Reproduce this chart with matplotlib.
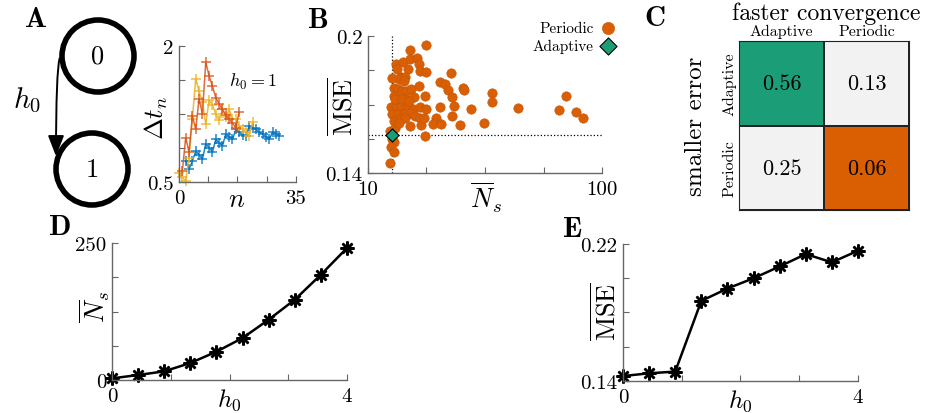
import matplotlib
matplotlib.use("Agg")
import matplotlib.pyplot as plt
import numpy as np
from matplotlib.patches import Circle, FancyArrowPatch
from matplotlib.colors import ListedColormap

plt.rcParams["font.family"] = ["cmr10", "DejaVu Serif"]
plt.rcParams["mathtext.fontset"] = "cm"
plt.rcParams["axes.unicode_minus"] = False
plt.rcParams["axes.formatter.use_mathtext"] = True

W, H = 928, 414

# --- panel A inset: inter-sample intervals for h0 = 1
n_red = np.arange(1, 19)
dt_red = [0.62, 0.99, 0.83, 1.23, 1.08, 1.42, 1.25, 1.82, 1.67, 1.56, 1.43, 1.36,
          1.30, 1.24, 1.19, 1.15, 1.10, 1.27]
n_yel = np.arange(0, 23)
dt_yel = [0.60, 0.55, 0.51, 0.77, 1.20, 1.64, 1.50, 1.38, 1.14, 1.40, 1.35, 1.25,
          1.18, 1.30, 1.22, 1.30, 1.20, 1.19, 1.12, 1.08, 1.05, 1.01, 1.16]
n_blu = np.arange(2, 31)
dt_blu = [0.73, 0.64, 0.73, 0.84, 0.80, 0.75, 0.92, 0.88, 0.83, 0.97, 0.93, 0.90,
          1.03, 1.00, 0.97, 1.08, 1.05, 1.02, 1.01, 1.12, 1.10, 1.08, 1.05, 1.03,
          1.00, 0.97, 1.05, 1.03, 1.01]

# --- panel B: periodic sampling runs vs adaptive
ns_periodic = [17.76, 15.16, 13.22, 14.11, 15.07, 16.20, 16.46, 14.77, 16.74, 17.76,
               13.84, 13.52, 14.43, 14.20, 12.96, 13.39, 13.97, 14.58, 15.26, 16.46,
               12.87, 13.65, 14.58, 15.67, 17.47, 12.54, 13.22, 13.84, 14.77, 15.57,
               16.63, 17.76, 12.66, 13.39, 14.20, 15.07, 15.93, 16.74, 12.87, 13.65,
               14.43, 15.07, 16.85, 17.41, 12.46, 13.09, 13.52, 12.66, 12.96, 12.54,
               12.87, 12.46, 17.47, 20.25, 21.41, 21.90, 22.63, 22.86, 23.38, 25.47,
               25.80, 20.25, 19.59, 18.96, 20.51, 22.93, 24.65, 27.55, 31.21, 33.77,
               33.98, 43.90, 70.40, 65.28, 77.68, 82.94, 13.09, 13.97, 14.92, 13.31,
               12.66]
mse_periodic = [0.1959, 0.1939, 0.1876, 0.1886, 0.1898, 0.1905, 0.1876, 0.1854, 0.1847, 0.1843,
                0.1822, 0.1811, 0.1822, 0.1803, 0.1774, 0.1767, 0.1760, 0.1760, 0.1770, 0.1781,
                0.1738, 0.1738, 0.1726, 0.1735, 0.1738, 0.1687, 0.1694, 0.1694, 0.1691, 0.1682,
                0.1687, 0.1680, 0.1658, 0.1658, 0.1658, 0.1662, 0.1650, 0.1643, 0.1629, 0.1636,
                0.1639, 0.1607, 0.1610, 0.1643, 0.1585, 0.1599, 0.1621, 0.1549, 0.1534, 0.1512,
                0.1490, 0.1444, 0.1560, 0.1799, 0.1789, 0.1764, 0.1837, 0.1731, 0.1694, 0.1774,
                0.1764, 0.1691, 0.1639, 0.1614, 0.1614, 0.1648, 0.1610, 0.1682, 0.1618, 0.1752,
                0.1712, 0.1685, 0.1738, 0.1677, 0.1668, 0.1639, 0.1723, 0.1723, 0.1716, 0.1854,
                0.1818]
ns_adaptive = [12.7]
mse_adaptive = [0.1566]

# --- panel C: fraction of cases
row_labels = ["Adaptive", "Periodic"]
col_labels = ["Adaptive", "Periodic"]
frac = np.array([[0.56, 0.13], [0.25, 0.06]])
cell_cat = np.array([[0, 1], [1, 2]])

# --- panels D, E
h0 = np.linspace(0, 4, 10)
ns_mean = [3.0, 9.1, 15.8, 31.0, 51.7, 76.6, 110.1, 146.6, 192.2, 240.9]
mse_mean = [0.1429, 0.1445, 0.1455, 0.1868, 0.1940, 0.2000, 0.2069, 0.2141, 0.2093, 0.2161]

ORANGE = "#D95F02"
GREEN = "#1B9E77"
GREY = "#666666"
TICK_FS = 15
LABEL_FS = 19

fig = plt.figure(figsize=(W / 100, H / 100), dpi=100)


def px_axes(x0, y0, x1, y1):
    return fig.add_axes([x0 / W, 1 - y1 / H, (x1 - x0) / W, (y1 - y0) / H])


def style(ax):
    for s in ["top", "right"]:
        ax.spines[s].set_visible(False)
    for s in ["left", "bottom"]:
        ax.spines[s].set_color(GREY)
        ax.spines[s].set_linewidth(1.0)
    ax.tick_params(direction="in", length=4, width=0.8, color=GREY, labelsize=TICK_FS)
    ax.tick_params(axis="x", pad=5)
    ax.tick_params(axis="y", pad=4)


def end_ticks(ax, xt, xl, yt, yl):
    ax.set_xticks(xt)
    ax.set_xticklabels([xl[0]] + [""] * (len(xt) - 2) + [xl[1]])
    ax.set_yticks(yt)
    ax.set_yticklabels([yl[0]] + [""] * (len(yt) - 2) + [yl[1]])
    ax.minorticks_off()


def labels(ax, xl, yl, xpos, ypos, xfs=LABEL_FS):
    ax.set_xlabel(xl, fontsize=xfs)
    ax.set_ylabel(yl, fontsize=LABEL_FS)
    ax.xaxis.set_label_coords(*xpos)
    ax.yaxis.set_label_coords(*ypos)


# background layer: state diagram and panel letters
bg = fig.add_axes([0, 0, 1, 1])
bg.set_xlim(0, W)
bg.set_ylim(H, 0)
bg.axis("off")
bg.add_patch(Circle((98, 57), 36, fill=False, lw=4.0, ec="k"))
bg.add_patch(Circle((92, 170), 36, fill=False, lw=4.0, ec="k"))
bg.text(98, 57, "0", fontsize=19, ha="center", va="center")
bg.text(92, 170, "1", fontsize=19, ha="center", va="center")
bg.add_patch(FancyArrowPatch((61, 57), (56, 160), connectionstyle="angle3,angleA=180,angleB=90",
                             arrowstyle="-|>,head_length=0.9,head_width=0.35",
                             mutation_scale=14, lw=1.4, color="k"))
bg.text(27, 100, r"$h_0$", fontsize=21, ha="center", va="center")
for lab, x, y in [("A", 36, 20), ("B", 318, 21), ("C", 655, 19), ("D", 59, 228), ("E", 572, 230)]:
    bg.text(x, y, r"$\mathbf{%s}$" % lab, fontsize=21, ha="center", va="center")
bg.text(826, 14, "faster convergence", fontsize=17, ha="center", va="center")

# inset of panel A
ax = px_axes(179, 47, 296, 183)
style(ax)
ax.plot(n_blu, dt_blu, "-+", color="#0072BD", lw=1.1, ms=7, mew=1.1, alpha=0.85, clip_on=False)
ax.plot(n_yel, dt_yel, "-+", color="#EDB120", lw=1.1, ms=7, mew=1.1, alpha=0.85, clip_on=False)
ax.plot(n_red, dt_red, "-+", color="#D95319", lw=1.1, ms=7, mew=1.1, alpha=0.85, clip_on=False)
ax.set_xlim(0, 35)
ax.set_ylim(0.5, 2)
end_ticks(ax, [0, 8.75, 17.5, 26.25, 35], ["0", "35"], [0.5, 0.875, 1.25, 1.625, 2], ["0.5", "2"])
ax.text(22, 1.61, r"$h_0=1$", fontsize=13, ha="center", va="center")
labels(ax, r"$n$", r"$\Delta t_n$", (0.49, -0.04), (-0.08, 0.48))

# panel B
ax = px_axes(368, 37, 602, 174)
style(ax)
ax.set_xscale("log")
ax.axvline(ns_adaptive[0], color="k", ls=":", lw=0.9, zorder=1)
ax.axhline(mse_adaptive[0], color="k", ls=":", lw=0.9, zorder=1)
ax.scatter(ns_periodic, mse_periodic, s=46, c=ORANGE, edgecolors="#c2550a", linewidths=0.4,
           label="Periodic", zorder=2)
ax.scatter(ns_adaptive, mse_adaptive, s=45, marker="D", c=GREEN, edgecolors="k", linewidths=0.8,
           label="Adaptive", zorder=3)
ax.set_xlim(10, 100)
ax.set_ylim(0.14, 0.2)
end_ticks(ax, 10 ** np.array([1, 1.25, 1.5, 1.75, 2]), ["10", "100"],
          [0.14, 0.155, 0.17, 0.185, 0.2], ["0.14", "0.2"])
labels(ax, r"$\overline{N}_s$", r"$\overline{\mathrm{MSE}}$", (0.504, -0.05), (-0.047, 0.49))
ax.legend(loc="upper right", bbox_to_anchor=(623 / W, 1 - 15 / H), bbox_transform=fig.transFigure,
          frameon=False, markerfirst=False, fontsize=11, handletextpad=0.4, labelspacing=0.25,
          borderpad=0, handlelength=1.0, scatterpoints=1, markerscale=1.3)

# panel C
ax = px_axes(739, 42, 909, 211)
ax.pcolormesh(cell_cat, cmap=ListedColormap([GREEN, "#F2F2F2", ORANGE]), vmin=0, vmax=2,
              edgecolors="#222222", linewidth=1.2)
ax.set_xlim(0, 2)
ax.set_ylim(2, 0)
for i in range(2):
    for j in range(2):
        ax.text(j + 0.5, i + 0.5, "%.2f" % frac[i, j], fontsize=16, ha="center", va="center")
ax.set_xticks([0.5, 1.5])
ax.set_xticklabels(col_labels, fontsize=11.5)
ax.set_yticks([0.5, 1.5])
ax.set_yticklabels(row_labels, fontsize=11.5, rotation=90, va="center")
ax.xaxis.tick_top()
ax.tick_params(length=0, pad=2)
for s in ax.spines.values():
    s.set_color("#222222")
ax.set_ylabel("smaller error", fontsize=18, labelpad=11)

# panel D
ax = px_axes(112, 244, 347, 381)
style(ax)
ax.plot(h0, ns_mean, "-", color="k", lw=1.8, marker=(8, 2, 0), ms=10, mew=1.8, clip_on=False)
ax.set_xlim(0, 4)
ax.set_ylim(0, 250)
end_ticks(ax, [0, 1, 2, 3, 4], ["0", "4"], [0, 62.5, 125, 187.5, 250], ["0", "250"])
labels(ax, r"$h_0$", r"$\overline{N}_s$", (0.5, -0.05), (0.0, 0.54), xfs=18)

# panel E
ax = px_axes(623, 245, 858, 382)
style(ax)
ax.plot(h0, mse_mean, "-", color="k", lw=1.8, marker=(8, 2, 0), ms=10, mew=1.8, clip_on=False)
ax.set_xlim(0, 4)
ax.set_ylim(0.14, 0.22)
end_ticks(ax, [0, 1, 2, 3, 4], ["0", "4"], [0.14, 0.16, 0.18, 0.20, 0.22], ["0.14", "0.22"])
labels(ax, r"$h_0$", r"$\overline{\mathrm{MSE}}$", (0.5, -0.05), (-0.012, 0.515), xfs=18)

fig.savefig("out.png", dpi=100)
